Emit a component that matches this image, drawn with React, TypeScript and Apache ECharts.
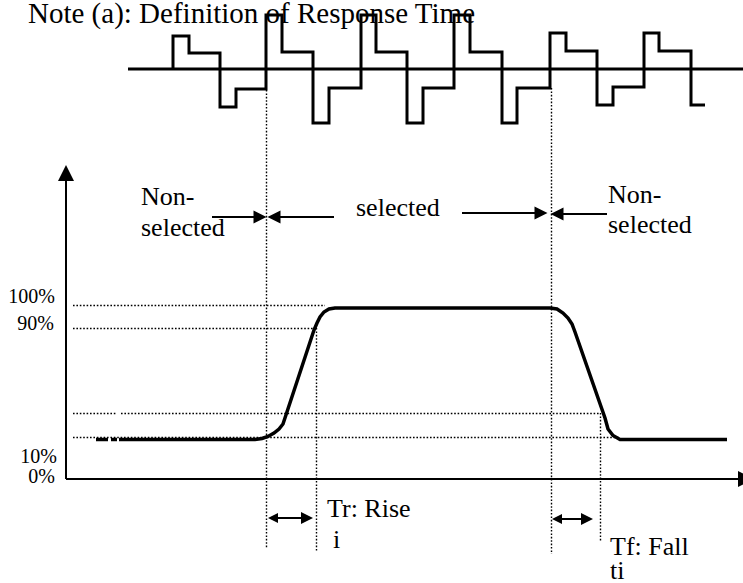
import React, { useEffect, useRef } from "react";
import * as echarts from "echarts";

// ---- canvas units (diagram drawn in a 743 x 583 coordinate space) ----
const SPACE_W = 743;
const SPACE_H = 583;

// ---- drive waveform (top): edge times and the level held after each edge ----
const driveZero = 69;
const driveSpan = [128, 743];
const driveEdges = [173, 189, 220, 236, 266, 282, 313, 329, 361, 376, 407, 423, 454, 470, 502, 517, 550, 566, 597, 613, 644, 659, 691, 705];
const driveLevels = [36, 53, 107, 89, 15, 52, 123, 88, 15, 52, 123, 88, 15, 52, 123, 88, 33, 51, 105, 87, 33, 51, 105];

// ---- optical response curve ----
const responseLowSegments = [
  [96, 108],
  [111, 117],
];
const responseX = [119, 255, 262, 268, 274, 279, 283, 314, 317, 320, 324, 329, 335, 550, 557, 563, 568, 572, 575, 605, 608, 613, 620, 727];
const responseY = [439.5, 439.5, 438.5, 436.5, 433, 429, 424, 330, 323, 317, 312, 309, 308, 308, 309, 313, 318, 324, 332, 418, 429, 435.5, 439.5, 439.5];
const responseLowLevel = 439.5;

// ---- dotted guides: [x1, y1, x2, y2] ----
const guideLines = [
  [73, 305, 325, 305],
  [73, 328, 317, 328],
  [73, 413, 117, 413],
  [121, 413, 600, 413],
  [73, 437, 620, 437],
  [266, 90, 266, 548],
  [316, 328, 316, 552],
  [551, 88, 551, 554],
  [600, 413, 600, 541],
];

// ---- axes (arrow heads are centred on the end point) ----
const axisOrigin = [66, 479];
const axisYEnd = 173;
const axisXEnd = 746;

// ---- annotation arrows: [fromX, fromY, toX, toY] (head centred at "to") ----
const singleArrows = [
  [212, 217, 260, 217],
  [334, 217, 274, 217],
  [462, 213, 541, 213],
  [607, 214, 557, 214],
];
const doubleArrows = [
  [273, 518, 307, 518],
  [557, 519, 587, 519],
];

// ---- texts: [text, x, baseline, fontSize, align] ----
const titleText = "Note (a): Definition of Response Time";
const labels: [string, number, number, number, string][] = [
  ["Non-", 141, 205, 26, "left"],
  ["selected", 141, 236, 26, "left"],
  ["selected", 356, 216, 26, "left"],
  ["Non-", 608, 203, 26, "left"],
  ["selected", 608, 233, 26, "left"],
  ["Tr: Rise", 327, 517, 26, "left"],
  ["i", 333, 548, 26, "left"],
  ["Tf: Fall", 610, 555, 26, "left"],
  ["ti", 610, 579, 26, "left"],
  ["100%", 55, 303, 20, "right"],
  ["90%", 54, 330, 20, "right"],
  ["10%", 57, 463, 20, "right"],
  ["0%", 55, 483, 20, "right"],
];

const FONT_FAMILY = "Liberation Serif";

function buildDrive(): number[][] {
  const pts: number[][] = [[driveEdges[0], driveZero]];
  for (let i = 0; i < driveLevels.length; i++) {
    pts.push([driveEdges[i], driveLevels[i]]);
    pts.push([driveEdges[i + 1], driveLevels[i]]);
  }
  return pts;
}

export default function App() {
  const ref = useRef<HTMLDivElement>(null);
  useEffect(() => {
    if (!ref.current) return;
    const chart = echarts.init(ref.current, undefined, { renderer: "svg" });
    const black = "#000";
    const lineSeries = (data: number[][], width: number) => ({
      type: "line",
      data,
      symbol: "none",
      silent: true,
      clip: false,
      lineStyle: { color: black, width, cap: "butt", join: "miter" },
    });
    const series: any[] = [];
    // drive
    series.push(lineSeries([[driveSpan[0], driveZero], [driveSpan[1], driveZero]], 3));
    series.push(lineSeries(buildDrive(), 3));
    // guides
    series.push({
      type: "lines",
      coordinateSystem: "cartesian2d",
      silent: true,
      clip: false,
      lineStyle: { color: black, width: 1.4, type: [1.6, 1.8], opacity: 1 },
      data: guideLines.map((g) => ({ coords: [[g[0], g[1]], [g[2], g[3]]] })),
    });
    // response curve
    responseLowSegments.forEach((s) => {
      series.push(lineSeries([[s[0], responseLowLevel], [s[1], responseLowLevel]], 3.5));
    });
    series.push(lineSeries(responseX.map((x, i) => [x, responseY[i]]), 3.5));
    // axes
    series.push({
      type: "lines",
      coordinateSystem: "cartesian2d",
      silent: true,
      clip: false,
      symbol: ["none", "triangle"],
      symbolSize: [17, 16],
      lineStyle: { color: black, width: 2, opacity: 1 },
      data: [
        { coords: [[axisOrigin[0], axisOrigin[1]], [axisOrigin[0], axisYEnd]] },
        { coords: [[axisOrigin[0], axisOrigin[1]], [axisXEnd, axisOrigin[1]]] },
      ],
    });
    // single arrows
    series.push({
      type: "lines",
      coordinateSystem: "cartesian2d",
      silent: true,
      clip: false,
      symbol: ["none", "triangle"],
      symbolSize: [11, 13],
      lineStyle: { color: black, width: 2, opacity: 1 },
      data: singleArrows.map((a) => ({ coords: [[a[0], a[1]], [a[2], a[3]]] })),
    });
    // double arrows
    series.push({
      type: "lines",
      coordinateSystem: "cartesian2d",
      silent: true,
      clip: false,
      symbol: ["triangle", "triangle"],
      symbolSize: [10, 12],
      lineStyle: { color: black, width: 2, opacity: 1 },
      data: doubleArrows.map((a) => ({ coords: [[a[0], a[1]], [a[2], a[3]]] })),
    });

    const texts: any[] = [
      {
        type: "text",
        x: 28,
        y: 23 - 0.3375 * 29,
        style: {
          text: titleText,
          fontSize: 29,
          fontFamily: FONT_FAMILY,
          fill: black,
          align: "left",
          verticalAlign: "middle",
        },
        z: 10,
      },
      ...labels.map((l) => ({
        type: "text",
        x: l[1],
        y: l[2] - 0.3375 * l[3],
        style: {
          text: l[0],
          fontSize: l[3],
          fontFamily: FONT_FAMILY,
          fill: black,
          align: l[4],
          verticalAlign: "middle",
        },
        z: 10,
      })),
    ];

    chart.setOption({
      animation: false,
      backgroundColor: "#fff",
      grid: { left: 0, right: 0, top: 0, bottom: 0 },
      xAxis: { type: "value", min: 0, max: SPACE_W, show: false },
      yAxis: { type: "value", min: 0, max: SPACE_H, inverse: true, show: false },
      series,
      graphic: texts,
    });
    return () => chart.dispose();
  }, []);
  return (
    <div
      ref={ref}
      style={{ position: "fixed", left: 0, top: 0, width: SPACE_W, height: SPACE_H, background: "#fff" }}
    />
  );
}
